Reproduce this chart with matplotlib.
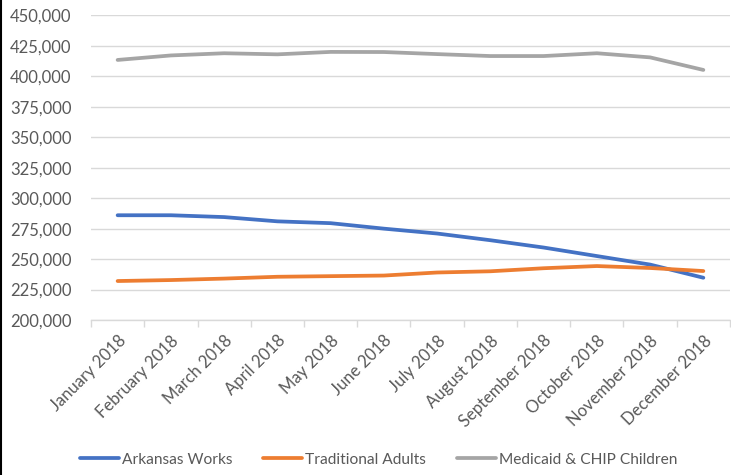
import matplotlib.pyplot as plt
from matplotlib.lines import Line2D
from matplotlib.ticker import FuncFormatter, FixedLocator

months = ['January 2018', 'February 2018', 'March 2018', 'April 2018', 'May 2018',
          'June 2018', 'July 2018', 'August 2018', 'September 2018', 'October 2018',
          'November 2018', 'December 2018']

arkansas_works = [286000, 286000, 284500, 281000, 279500, 275000,
                  271000, 265500, 259500, 252500, 245500, 234700]
traditional_adults = [232000, 232800, 234000, 235500, 236000, 236500,
                      239000, 240000, 242500, 244300, 242700, 240200]
medicaid_chip = [413500, 417200, 419000, 418100, 420100, 420000,
                 418300, 416700, 416700, 419000, 415600, 405300]

series = [('Arkansas Works', arkansas_works, '#4472C4'),
          ('Traditional Adults', traditional_adults, '#ED7D31'),
          ('Medicaid & CHIP Children', medicaid_chip, '#A5A5A5')]

plt.rcParams['font.family'] = ['Lato', 'DejaVu Sans']

fig = plt.figure(figsize=(7.31, 4.75), dpi=100)
ax = fig.add_axes([0.1245, 0.3263, 0.8741, 0.6411])

x = list(range(len(months)))
for name, vals, color in series:
    ax.plot(x, vals, color=color, lw=2.7, label=name, solid_capstyle='round',
            solid_joinstyle='round')

ax.set_xlim(-0.5, len(months) - 0.5)
ax.set_ylim(200000, 450000)
ax.set_yticks(range(200000, 450001, 25000))
ax.yaxis.set_major_formatter(FuncFormatter(lambda v, p: f'{int(v):,}'))
ax.grid(axis='y', color='#d9d9d9', lw=1)
ax.set_axisbelow(True)

for s in ['top', 'right', 'left']:
    ax.spines[s].set_visible(False)
ax.spines['bottom'].set_color('#d9d9d9')
ax.spines['bottom'].set_linewidth(1)

ax.set_xticks(x)
ax.set_xticklabels(months, rotation=45, ha='right', rotation_mode='anchor')
ax.xaxis.set_minor_locator(FixedLocator([i - 0.5 for i in range(len(months) + 1)]))
ax.tick_params(axis='x', which='major', length=0, pad=9, labelsize=12, labelcolor='#595959')
ax.tick_params(axis='x', which='minor', length=5, color='#d9d9d9', width=1)
ax.tick_params(axis='y', length=0, pad=14, labelsize=12, labelcolor='#595959')

handles, labels = ax.get_legend_handles_labels()
fig.legend(handles, labels, loc='center', bbox_to_anchor=(0.518, 0.032), ncol=3,
           frameon=False, fontsize=11.2, labelcolor='#595959', handlelength=2.5,
           handletextpad=0.2, columnspacing=2.0)

# left border of the screenshot
fig.add_artist(Line2D([0.001, 0.001], [0, 1], color='black', lw=1.5,
                      transform=fig.transFigure))

fig.savefig('out.png', dpi=100)
